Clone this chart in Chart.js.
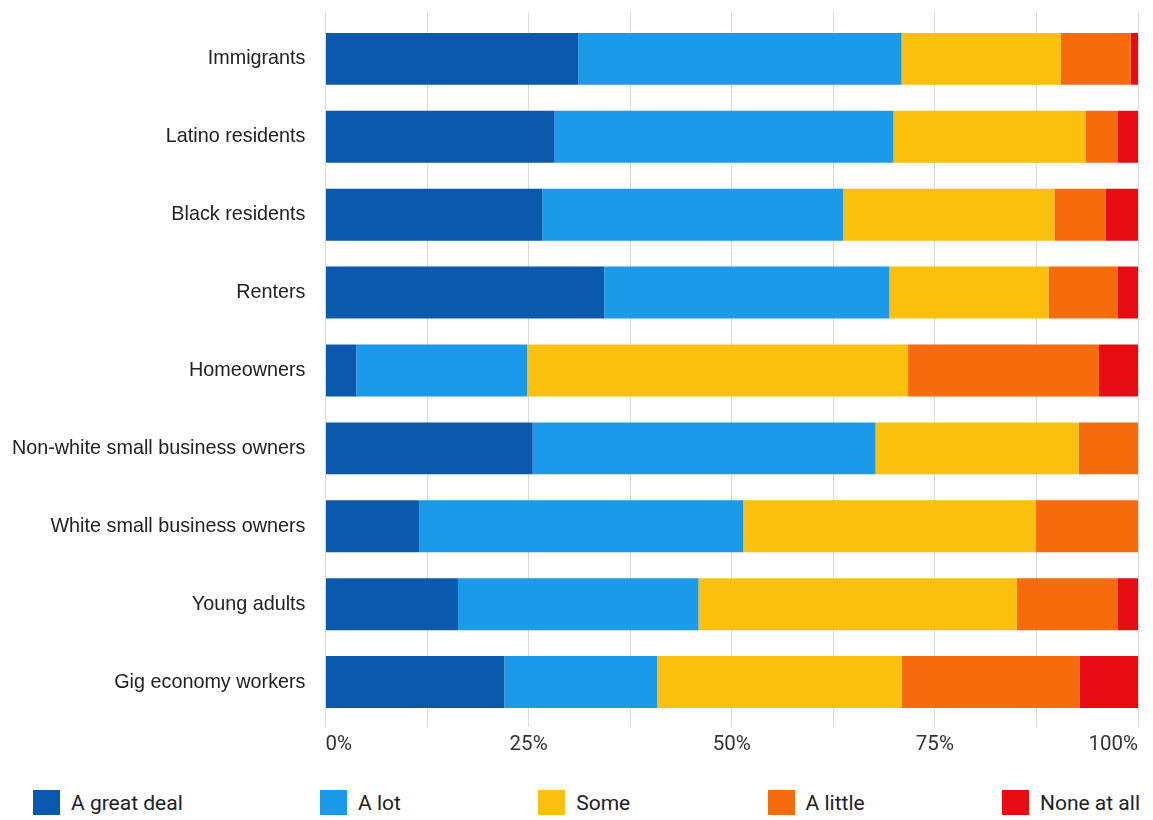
<!DOCTYPE html>
<html lang="en">
<head>
    <meta charset="UTF-8">
    <title>Perceived impact by group</title>
    <style>
        body {
            margin: 0;
            background: #fff;
            font-family: Roboto, Arial, sans-serif;
        }
        .wrap {
            position: relative;
            width: 1153px;
            height: 820px;
        }
        .legend {
            position: absolute;
            left: 33px;
            right: 13px;
            top: 790px;
            display: flex;
            justify-content: space-between;
            align-items: center;
        }
        .legend .item {
            display: flex;
            align-items: center;
            font-size: 21px;
            color: #222;
        }
        .legend .box {
            width: 27px;
            height: 25px;
            margin-right: 11px;
        }
    </style>
    <script src="https://cdn.jsdelivr.net/npm/chart.js"></script>
</head>
<body>
    <div class="wrap">
        <canvas id="chart" width="1153" height="770"></canvas>
        <div class="legend" id="legend"></div>
    </div>

    <script>
        const categories = [
            'Immigrants',
            'Latino residents',
            'Black residents',
            'Renters',
            'Homeowners',
            'Non-white small business owners',
            'White small business owners',
            'Young adults',
            'Gig economy workers'
        ];
        const greatDeal = [31.1, 28.2, 26.7, 34.3, 3.8, 25.5, 11.5, 16.3, 22.0];
        const aLot      = [39.8, 41.7, 37.0, 35.1, 21.0, 42.2, 39.9, 29.6, 18.8];
        const some      = [19.6, 23.7, 26.0, 19.6, 46.9, 25.0, 36.0, 39.2, 30.1];
        const aLittle   = [8.6, 3.9, 6.3, 8.5, 23.5, 7.3, 12.6, 12.4, 21.9];
        const noneAtAll = [0.9, 2.5, 4.0, 2.5, 4.8, 0, 0, 2.5, 7.2];

        const seriesNames  = ['A great deal', 'A lot', 'Some', 'A little', 'None at all'];
        const seriesColors = ['#0b59ad', '#1a9ae9', '#fbbf0e', '#f66c0c', '#e70c14'];
        const seriesValues = [greatDeal, aLot, some, aLittle, noneAtAll];

        const gridColor = '#dadada';

        const datasets = seriesNames.map((name, i) => ({
            label: name,
            data: seriesValues[i],
            backgroundColor: seriesColors[i],
            borderWidth: 0,
            barPercentage: 0.667,
            categoryPercentage: 1
        }));

        new Chart(document.getElementById('chart'), {
            type: 'bar',
            data: { labels: categories, datasets: datasets },
            options: {
                indexAxis: 'y',
                responsive: false,
                animation: false,
                layout: { padding: { top: 0, right: 15, left: 0, bottom: 0 } },
                plugins: {
                    legend: { display: false },
                    tooltip: { enabled: false }
                },
                scales: {
                    x: {
                        stacked: true,
                        min: 0,
                        max: 100,
                        position: 'bottom',
                        border: { display: false },
                        grid: { color: gridColor, tickLength: 6, tickColor: gridColor },
                        ticks: {
                            stepSize: 12.5,
                            autoSkip: false,
                            maxRotation: 0,
                            align: 'inner',
                            padding: 6,
                            color: '#333',
                            font: { family: 'Roboto', size: 20.5 },
                            callback: v => (v % 25 === 0 ? v + '%' : '')
                        },
                        afterFit: s => { s.height = 49; }
                    },
                    // short grid stubs above the bars
                    xTop: {
                        type: 'linear',
                        axis: 'x',
                        position: 'top',
                        min: 0,
                        max: 100,
                        border: { display: false },
                        grid: { drawOnChartArea: false, tickLength: 8, tickColor: gridColor },
                        ticks: { stepSize: 12.5, display: false },
                        afterFit: s => { s.height = 8; }
                    },
                    y: {
                        stacked: true,
                        border: { display: false },
                        grid: { display: false },
                        ticks: {
                            padding: 12,
                            color: '#222',
                            font: { family: 'Liberation Sans', size: 19.8, lineHeight: 0.8 }
                        },
                        afterFit: s => { s.width = 325.5; }
                    }
                }
            }
        });

        const legend = document.getElementById('legend');
        seriesNames.forEach((name, i) => {
            const item = document.createElement('div');
            item.className = 'item';
            item.innerHTML = '<span class="box" style="background:' + seriesColors[i] + '"></span>' + name;
            legend.appendChild(item);
        });
    </script>
</body>
</html>
